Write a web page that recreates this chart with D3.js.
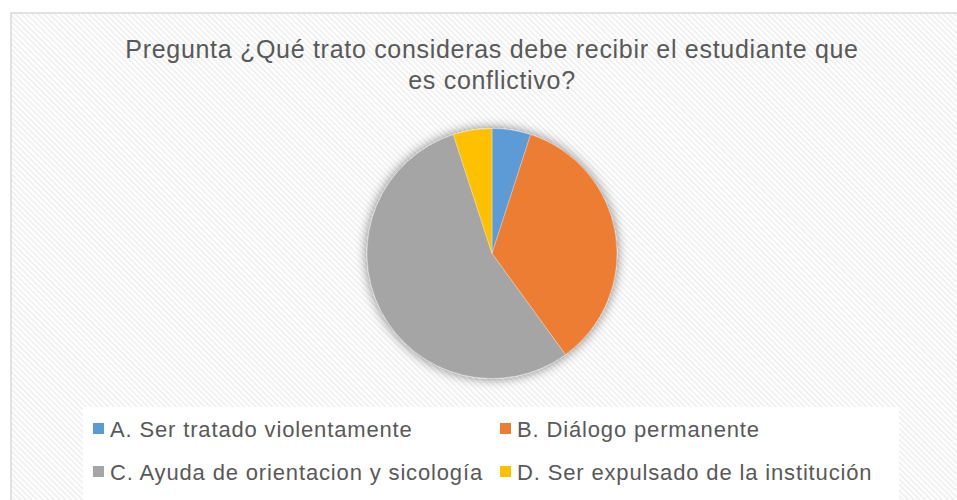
<!DOCTYPE html>
<html>
<head>
<meta charset="utf-8">
<script src="https://cdn.jsdelivr.net/npm/d3@7"></script>
<style>
  html, body { margin: 0; padding: 0; background: #fff; }
  svg { display: block; font-family: "Liberation Sans", Arial, sans-serif; }
</style>
</head>
<body>
<div id="chart"></div>
<script>
const width = 957;
const height = 500;

// data
const titleLines = ['Pregunta ¿Qué trato consideras debe recibir el estudiante que', 'es conflictivo?'];
const categories = ['A. Ser tratado violentamente', 'B. Diálogo permanente', 'C. Ayuda de orientacion y sicología', 'D. Ser expulsado de la institución'];
const counts = [2, 14, 22, 2];
const colors = ['#5B9BD5', '#ED7D31', '#A5A5A5', '#FFC000'];

const svg = d3.select('#chart')
  .append('svg')
  .attr('width', width)
  .attr('height', height);

const defs = svg.append('defs');

// diagonal stripes like the Excel chart area fill
const stripes = defs.append('pattern')
  .attr('id', 'stripes')
  .attr('patternUnits', 'userSpaceOnUse')
  .attr('width', 4)
  .attr('height', 4)
  .attr('patternTransform', 'rotate(-45)');
stripes.append('rect').attr('width', 4).attr('height', 4).attr('fill', '#ffffff');
stripes.append('rect').attr('width', 2).attr('height', 4).attr('fill', '#f1f1f1');

const shadow = defs.append('filter')
  .attr('id', 'glow')
  .attr('x', '-30%').attr('y', '-30%')
  .attr('width', '160%').attr('height', '160%');
shadow.append('feGaussianBlur').attr('in', 'SourceAlpha').attr('stdDeviation', 6).attr('result', 'blur');
shadow.append('feComponentTransfer').attr('in', 'blur').attr('result', 'soft')
  .append('feFuncA').attr('type', 'linear').attr('slope', 0.5);
const merge = shadow.append('feMerge');
merge.append('feMergeNode').attr('in', 'soft');
merge.append('feMergeNode').attr('in', 'SourceGraphic');

// chart area
svg.append('rect')
  .attr('x', 11)
  .attr('y', 13)
  .attr('width', width + 20)
  .attr('height', height + 20)
  .attr('fill', 'url(#stripes)')
  .attr('stroke', '#d9d9d9')
  .attr('stroke-width', 1.5);

// title
svg.append('text')
  .attr('x', 492)
  .attr('y', 58)
  .attr('text-anchor', 'middle')
  .attr('fill', '#595959')
  .style('font-size', '25px')
  .style('letter-spacing', '0.7px')
  .selectAll('tspan')
  .data(titleLines)
  .join('tspan')
  .attr('x', 492)
  .attr('dy', (d, i) => i === 0 ? 0 : 31)
  .text(d => d);

// pie
const cx = 492, cy = 253.5, radius = 125;
const pie = d3.pie().sort(null).value(d => d);
const arc = d3.arc().innerRadius(0).outerRadius(radius);

const pieGroup = svg.append('g')
  .attr('transform', `translate(${cx}, ${cy})`)
  .attr('filter', 'url(#glow)');

pieGroup.selectAll('path')
  .data(pie(counts))
  .join('path')
  .attr('d', arc)
  .attr('fill', (d, i) => colors[i])
  .attr('stroke', '#ffffff')
  .attr('stroke-opacity', 0.5)
  .attr('stroke-width', 0.6);

// legend
svg.append('rect')
  .attr('x', 83)
  .attr('y', 407)
  .attr('width', 816)
  .attr('height', 100)
  .attr('fill', '#ffffff');

const colX = d3.scalePoint().domain([0, 1]).range([93, 500]);
const rowY = d3.scalePoint().domain([0, 1]).range([437, 480]);

const legendItems = svg.append('g')
  .selectAll('g')
  .data(categories)
  .join('g')
  .attr('transform', (d, i) => `translate(${colX(i % 2)}, ${rowY(Math.floor(i / 2))})`);

legendItems.append('rect')
  .attr('x', 0)
  .attr('y', -14)
  .attr('width', 11)
  .attr('height', 11)
  .attr('fill', (d, i) => colors[i]);

legendItems.append('text')
  .attr('x', 17)
  .attr('y', 0)
  .attr('fill', '#595959')
  .style('font-size', '22px')
  .style('letter-spacing', '0.85px')
  .text(d => d);
</script>
</body>
</html>
